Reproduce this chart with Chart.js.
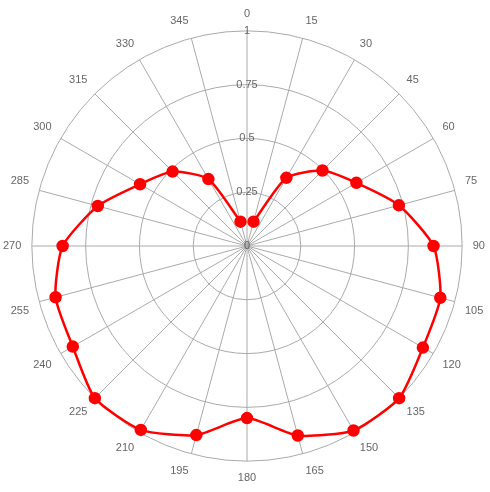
<!DOCTYPE html>
<html>
<head>
<meta charset="utf-8">
<script src="https://cdn.jsdelivr.net/npm/chart.js@4"></script>
<style>
  html, body { margin: 0; padding: 0; background: #fff; }
  #wrap { width: 490px; height: 492px; }
</style>
</head>
<body>
<div id="wrap"><canvas id="myChart"></canvas></div>
<script>
const angles = ['0', '15', '30', '45', '60', '75', '90', '105', '120', '135', '150', '165',
                '180', '195', '210', '225', '240', '255', '270', '285', '300', '315', '330', '345'];
const values = [null, 0.117, 0.366, 0.496, 0.587, 0.731, 0.867, 0.93, 0.944, 1.0, 0.99, 0.912,
                0.80, 0.91, 0.987, 1.0, 0.935, 0.921, 0.857, 0.718, 0.574, 0.489, 0.359, 0.117];
const tickValues = [0, 0.25, 0.5, 0.75, 1];

const ctx = document.getElementById('myChart');

// chart.js skips the label of the first radial tick, draw the "0" at the centre
const zeroLabel = {
    id: 'zeroLabel',
    afterDatasetsDraw(chart) {
        const r = chart.scales.r;
        const c = chart.ctx;
        c.save();
        c.font = '11px Helvetica, Arial, sans-serif';
        c.fillStyle = '#666';
        c.textAlign = 'center';
        c.textBaseline = 'middle';
        c.fillText(String(tickValues[0]), r.xCenter, r.yCenter);
        c.restore();
    }
};

new Chart(ctx, {
    type: 'radar',
    data: {
        labels: angles,
        datasets: [{
            data: values,
            borderColor: '#ff0000',
            backgroundColor: '#ff0000',
            pointBackgroundColor: '#ff0000',
            pointBorderColor: '#ff0000',
            borderWidth: 2.5,
            pointRadius: 5,
            tension: 0.2,
            fill: false
        }]
    },
    options: {
        responsive: true,
        maintainAspectRatio: false,
        animation: false,
        layout: { padding: { left: 0, right: 2, top: 0, bottom: 0 } },
        plugins: {
            legend: { display: false },
            tooltip: { enabled: false }
        },
        scales: {
            r: {
                min: 0,
                max: 1,
                afterBuildTicks: (axis) => {
                    axis.ticks = tickValues.map(v => ({ value: v }));
                },
                ticks: {
                    showLabelBackdrop: false,
                    color: '#666',
                    font: { size: 11 },
                    callback: (v) => String(v),
                    z: 1
                },
                grid: { circular: true, color: '#aaa' },
                angleLines: { color: '#aaa' },
                pointLabels: { color: '#666', font: { size: 11 }, padding: 3 }
            }
        }
    },
    plugins: [zeroLabel]
});
</script>
</body>
</html>
